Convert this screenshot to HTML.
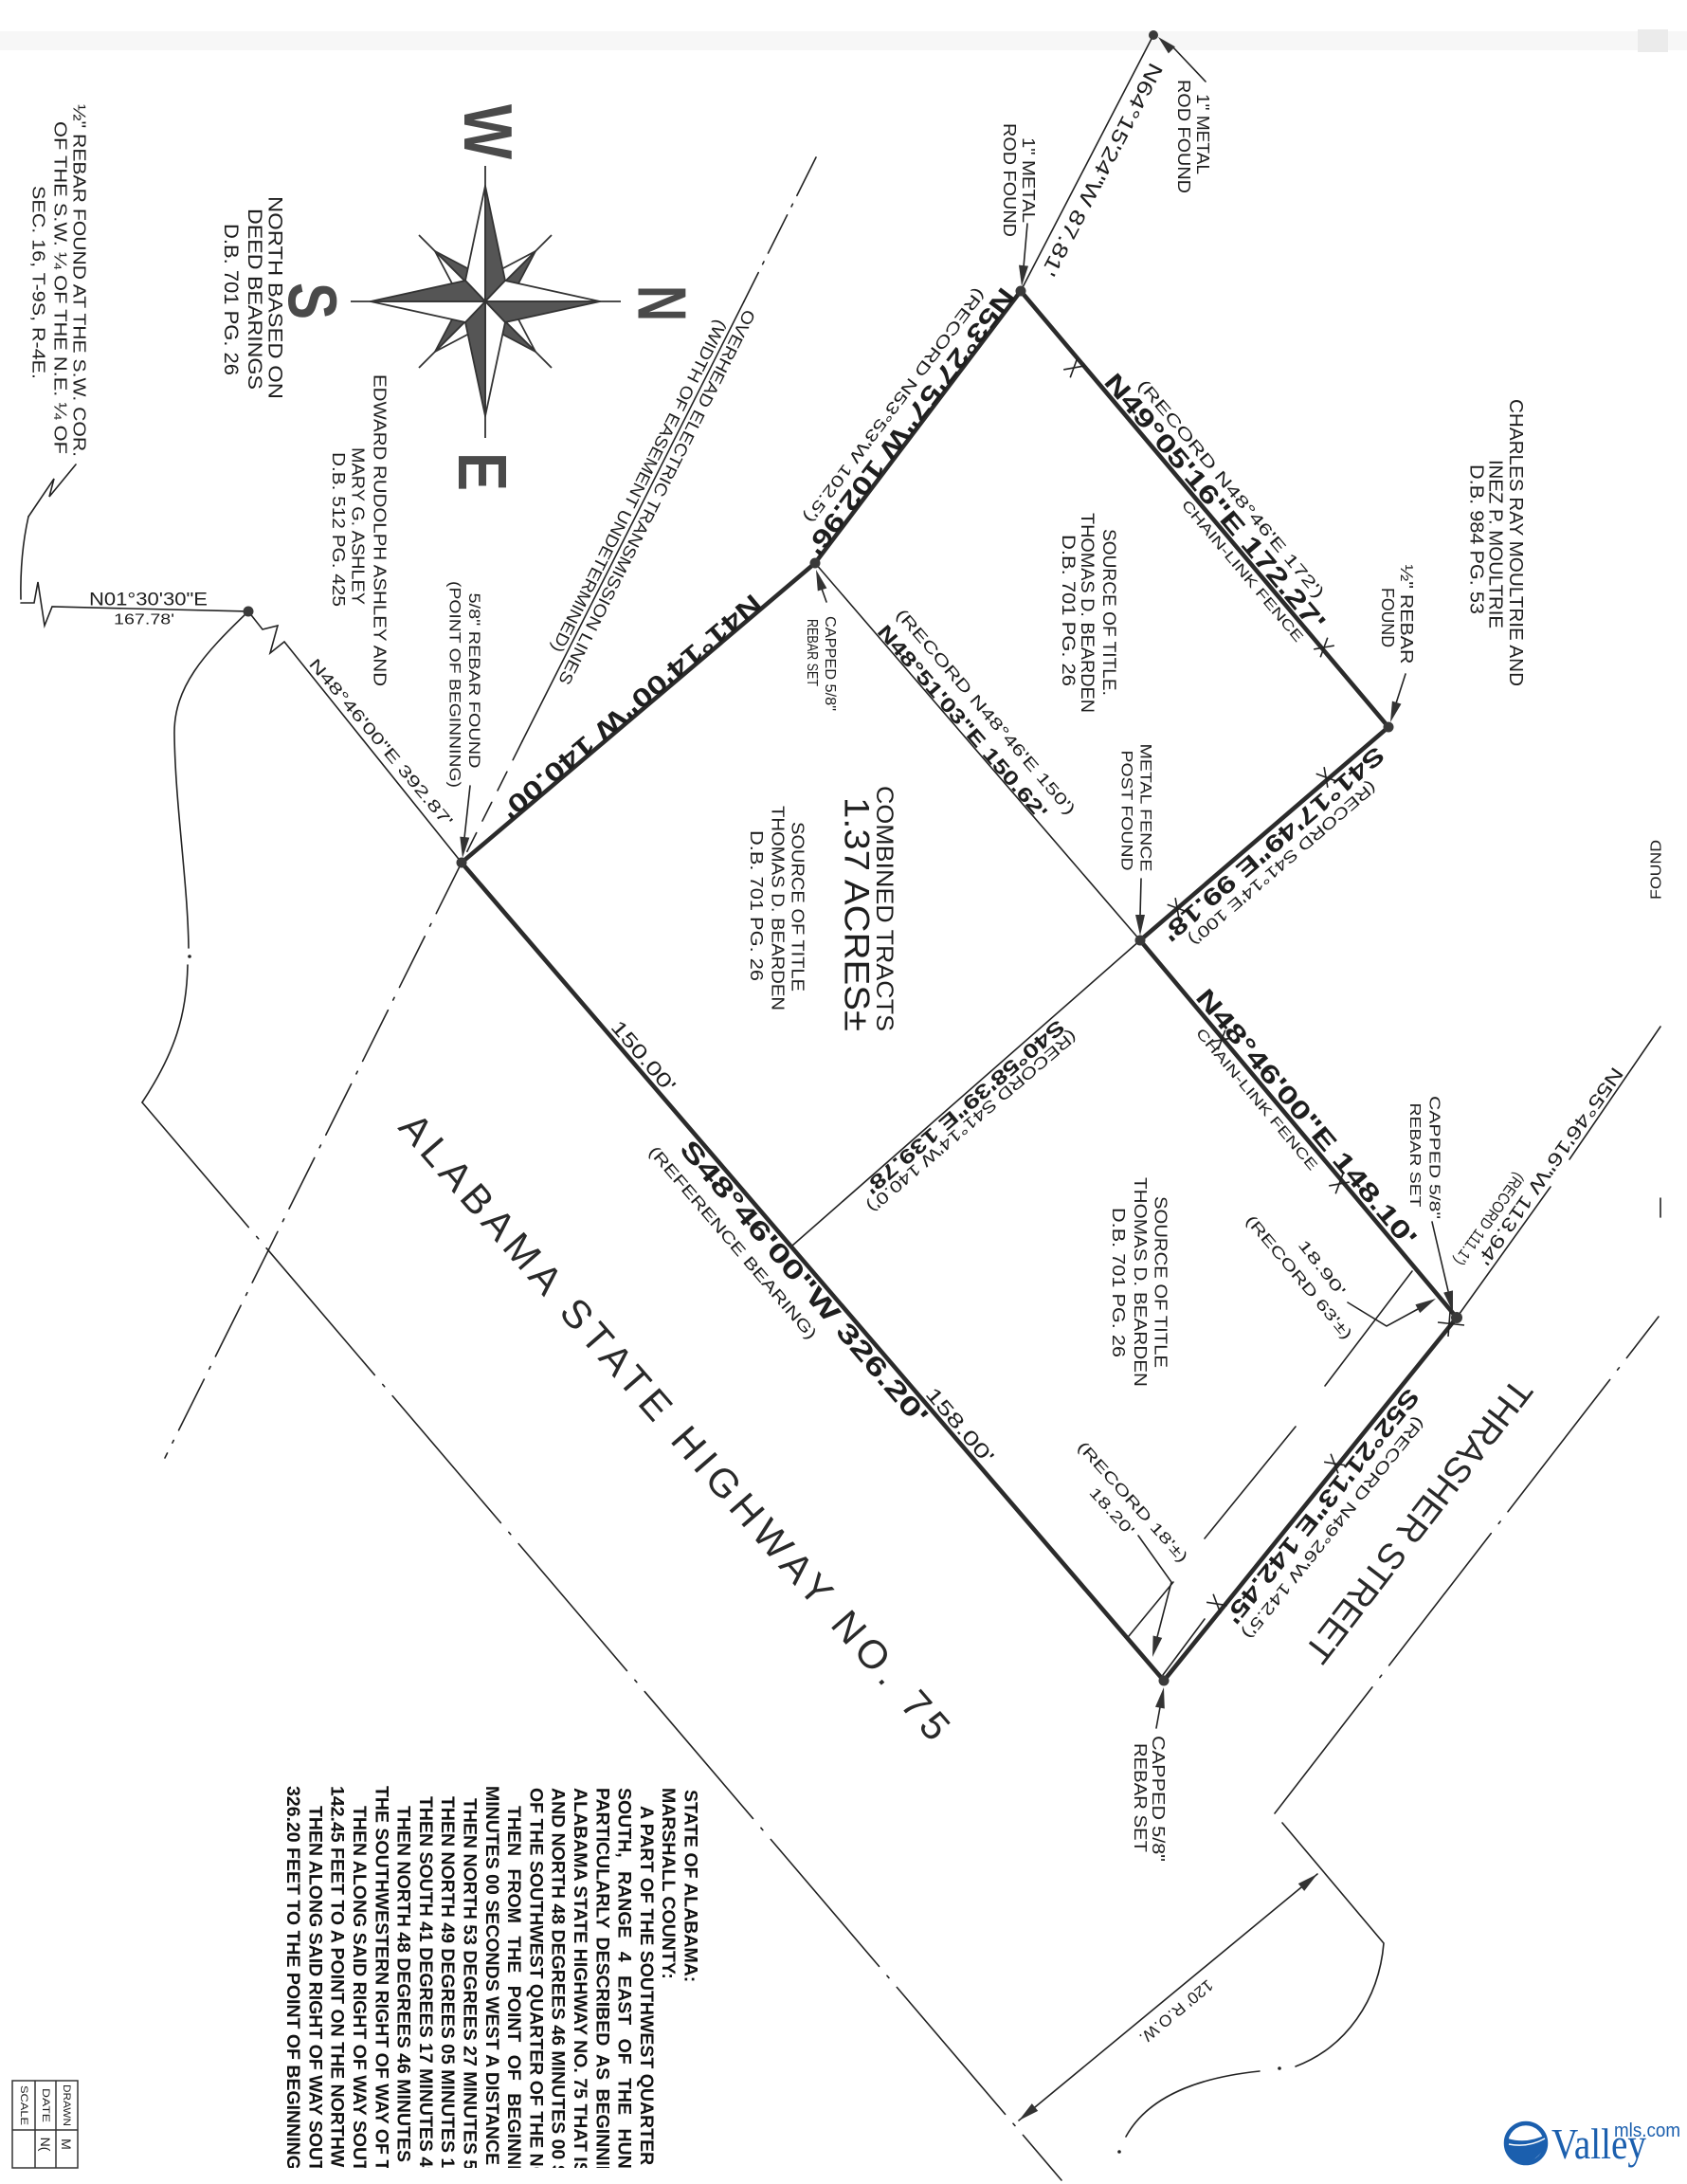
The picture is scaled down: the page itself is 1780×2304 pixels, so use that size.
<!DOCTYPE html>
<html><head><meta charset="utf-8">
<style>
html,body{margin:0;padding:0;background:#fff;width:1780px;height:2304px;overflow:hidden;}
svg{display:block;overflow:hidden;}
svg text{font-family:"Liberation Sans",Arial,sans-serif;fill:#1e1e1e;}
.b{font-weight:bold;}
.lg{font-weight:bold;fill:#111;font-size:19.5px;}
</style></head><body>
<svg width="1780" height="2304" viewBox="0 0 1780 2304" xmlns="http://www.w3.org/2000/svg">
<defs><clipPath id="cb"><rect x="0" y="0" width="1780" height="2287"/></clipPath></defs>
<rect width="1780" height="2304" fill="#fff"/>
<rect x="0" y="33" width="1780" height="20" fill="#f7f7f7"/>
<rect x="1728" y="31" width="32" height="24" fill="#ebebeb"/>

<!-- thin construction lines -->
<g stroke="#222" stroke-width="1.6" fill="none" stroke-linecap="round">
<line x1="1217" y1="37" x2="1077" y2="307"/>
<line x1="860" y1="594" x2="1203" y2="992"/>
<line x1="1203" y1="992" x2="836" y2="1314"/>
<line x1="1537" y1="1390" x2="1636" y2="1252"/>
<line x1="1656" y1="1223" x2="1752" y2="1083"/>
<line x1="1490" y1="1341" x2="1398" y2="1462"/>
<line x1="1367" y1="1505" x2="1271" y2="1623"/>
<line x1="1238" y1="1669" x2="1191" y2="1726"/>
<line x1="1271" y1="1708" x2="1227" y2="1767"/>
<line x1="1752" y1="1264" x2="1752" y2="1284"/>
<line x1="1075" y1="2237" x2="1390" y2="1977"/>
<polyline points="22,636 36,636 40,614 47,660 55,640 262,645"/>
<polyline points="262,645 277,664 293,660 285,689 300,677 487,910"/>
<polyline points="80,490 52,524 57,505 30,545"/>
<path d="M30,545 Q21,585 22,632"/>
<!-- leaders -->
<line x1="1272" y1="86" x2="1236" y2="48"/>
<line x1="1084" y1="236" x2="1080" y2="282"/>
<line x1="1483" y1="711" x2="1473" y2="742"/>
<line x1="1204" y1="927" x2="1203" y2="966"/>
<line x1="872" y1="635" x2="867" y2="621"/>
<line x1="496" y1="829" x2="490" y2="884"/>
<line x1="1511" y1="1289" x2="1528" y2="1362"/>
<line x1="1220" y1="1823" x2="1224" y2="1801"/>
<polyline points="1201,1620 1236,1669 1221,1727"/>
<polyline points="1422,1374 1463,1399 1496,1381"/>
<!-- highway / right of way lines -->
<line x1="861" y1="166" x2="785" y2="318" stroke-dasharray="45 10 3 10"/>
<line x1="785" y1="318" x2="551" y2="782"/>
<line x1="551" y1="782" x2="487" y2="910" stroke-dasharray="22 14"/>
<line x1="487" y1="910" x2="174" y2="1538" stroke-dasharray="60 12 3 12"/>
<line x1="150" y1="1163" x2="1120" y2="2300" stroke-dasharray="176 13 3 13" stroke-dashoffset="3"/>
<line x1="1750" y1="1389" x2="1345" y2="1913" stroke-dasharray="176 13 3 13" stroke-dashoffset="121"/>
<path d="M262,645 C215,690 183,725 184,775 C185,850 198,930 199,1000"/>
<path d="M198,1018 C197,1070 185,1110 150,1163"/>
<path d="M1353,1923 L1460,2050 C1455,2110 1420,2160 1367,2180"/>
<path d="M1329,2185 C1280,2190 1215,2205 1188,2254"/>
</g>
<g fill="#222">
<circle cx="200" cy="1009" r="1.8"/><circle cx="1350" cy="2182" r="1.8"/><circle cx="1181" cy="2270" r="1.8"/>
</g>

<!-- thick boundary -->
<polygon points="487,910 860,594 1077,307 1465,767 1203,992 1537,1390 1228,1773" fill="none" stroke="#2b2b2b" stroke-width="4.6" stroke-linejoin="round"/>

<!-- fence X marks -->
<g stroke="#222" stroke-width="1.6">
<line x1="1129.2" y1="398.3" x2="1136.8" y2="377.7"/><line x1="1143.8" y1="386.1" x2="1122.2" y2="389.9"/>
<line x1="1393.2" y1="693.3" x2="1400.8" y2="672.7"/><line x1="1407.8" y1="681.1" x2="1386.2" y2="684.9"/>
<line x1="1285.2" y1="1107.3" x2="1292.8" y2="1086.7"/><line x1="1299.8" y1="1095.1" x2="1278.2" y2="1098.9"/>
<line x1="1409.2" y1="1259.3" x2="1416.8" y2="1238.7"/><line x1="1423.8" y1="1247.1" x2="1402.2" y2="1250.9"/>
<line x1="1388.7" y1="816.2" x2="1409.3" y2="823.8"/><line x1="1400.9" y1="830.8" x2="1397.1" y2="809.2"/>
<line x1="1231.7" y1="954.2" x2="1252.3" y2="961.8"/><line x1="1243.9" y1="968.8" x2="1240.1" y2="947.2"/>
<line x1="1397.1" y1="1542.3" x2="1418.9" y2="1545.7"/><line x1="1411.9" y1="1554.3" x2="1404.1" y2="1533.7"/>
<line x1="1273.1" y1="1690.3" x2="1294.9" y2="1693.7"/><line x1="1287.9" y1="1702.3" x2="1280.1" y2="1681.7"/>
<line x1="1517" y1="1395" x2="1545" y2="1398"/><line x1="1530" y1="1384" x2="1528" y2="1410"/>
</g>

<!-- arrowheads -->
<g fill="#333">
<polygon points="1222,39 1239.9,49.2 1232.9,56.4"/>
<polygon points="1078,302 1085,280.6 1075,279.6"/>
<polygon points="1467,762 1478.5,742.6 1468.9,739.6"/>
<polygon points="1203,987 1208,965 1198,965"/>
<polygon points="861,601 872.4,620.5 862.8,623.5"/>
<polygon points="488,905 495.3,883.6 485.3,882.6"/>
<polygon points="1533,1384 1533,1361.4 1523.2,1363.6"/>
<polygon points="1228,1780 1228.8,1802.5 1219,1800.7"/>
<polygon points="1216,1748 1226.2,1727.9 1216.6,1725.5"/>
<polygon points="1515,1370 1498.2,1385.1 1493.4,1376.3"/>
<polygon points="1390,1977 1376.2,1994.9 1369.8,1987.1"/>
<polygon points="1075,2237 1095.2,2226.9 1088.8,2219.1"/>
</g>

<!-- points -->
<g fill="#3a3a3a">
<circle cx="1217" cy="37" r="5"/><circle cx="1077" cy="307" r="5.5"/><circle cx="860" cy="594" r="5.5"/>
<circle cx="1465" cy="767" r="5.5"/><circle cx="1203" cy="992" r="5.5"/><circle cx="1537" cy="1390" r="6"/>
<circle cx="1228" cy="1773" r="5.5"/><circle cx="487" cy="910" r="5.5"/><circle cx="262" cy="645" r="5.5"/>
</g>

<!-- compass rose -->
<g stroke="#333" stroke-width="1.8" stroke-linejoin="round">
<line x1="565" y1="265" x2="582" y2="248"/><line x1="565" y1="371" x2="582" y2="388"/>
<line x1="459" y1="371" x2="442" y2="388"/><line x1="459" y1="265" x2="442" y2="248"/>
<polygon points="565,265 533.2,296.8 529,284" fill="#fff"/><polygon points="565,265 533.2,296.8 546,301" fill="#555"/>
<polygon points="565,371 533.2,339.2 546,335" fill="#fff"/><polygon points="565,371 533.2,339.2 529,352" fill="#555"/>
<polygon points="459,371 490.8,339.2 495,352" fill="#fff"/><polygon points="459,371 490.8,339.2 478,335" fill="#555"/>
<polygon points="459,265 490.8,296.8 478,301" fill="#fff"/><polygon points="459,265 490.8,296.8 495,284" fill="#555"/>
<polygon points="512,318 512,196 491,296" fill="#fff"/><polygon points="512,318 512,196 533,296" fill="#555"/>
<polygon points="512,318 633,318 533,296" fill="#fff"/><polygon points="512,318 633,318 533,340" fill="#555"/>
<polygon points="512,318 512,439 533,340" fill="#fff"/><polygon points="512,318 512,439 491,340" fill="#555"/>
<polygon points="512,318 391,318 491,340" fill="#fff"/><polygon points="512,318 391,318 491,296" fill="#555"/>
<line x1="512" y1="196" x2="512" y2="175"/><line x1="633" y1="318" x2="655" y2="318"/>
<line x1="512" y1="439" x2="512" y2="462"/><line x1="391" y1="318" x2="370" y2="318"/>
</g>
<g class="b" text-anchor="middle" dominant-baseline="central" font-size="72">
<text transform="translate(514,139) rotate(90)" textLength="58" lengthAdjust="spacingAndGlyphs" style="fill:#4a4a4a">W</text>
<text transform="translate(697.5,320) rotate(90)" textLength="38" lengthAdjust="spacingAndGlyphs" style="fill:#4a4a4a">N</text>
<text transform="translate(508,497.5) rotate(90)" textLength="41" lengthAdjust="spacingAndGlyphs" style="fill:#4a4a4a">E</text>
<text transform="translate(328.5,317.5) rotate(90)" textLength="39" lengthAdjust="spacingAndGlyphs" style="fill:#4a4a4a">S</text>
</g>

<!-- labels along lines -->
<g text-anchor="middle" dominant-baseline="central">
<text transform="translate(1163,179) rotate(117.6)" font-size="22" textLength="250" lengthAdjust="spacingAndGlyphs">N64°15'24"W 87.81'</text>
<text class="b" transform="translate(960.5,444.5) rotate(127.1)" font-size="27" textLength="345" lengthAdjust="spacingAndGlyphs">N53°27'57"W 102.96'</text>
<text transform="translate(943.6,427.8) rotate(127.1)" font-size="17" textLength="305" lengthAdjust="spacingAndGlyphs">(RECORD N53°53'W 102.5')</text>
<text class="b" transform="translate(665.8,745.3) rotate(139.75)" font-size="27" textLength="350" lengthAdjust="spacingAndGlyphs">N41°14'00"W 140.00'</text>
<text class="b" transform="translate(1281.7,529.6) rotate(49.9)" font-size="27" textLength="345" lengthAdjust="spacingAndGlyphs">N49°05'16"E 172.27'</text>
<text transform="translate(1298.9,515.8) rotate(49.9)" font-size="17" textLength="295" lengthAdjust="spacingAndGlyphs">(RECORD N48°46'E 172')</text>
<text transform="translate(1310.6,602.7) rotate(49.9)" font-size="15" textLength="190" lengthAdjust="spacingAndGlyphs">CHAIN-LINK FENCE</text>
<text class="b" transform="translate(1343.2,890.1) rotate(139.3)" font-size="25" textLength="300" lengthAdjust="spacingAndGlyphs">S41°17'49"E 99.18'</text>
<text transform="translate(1353,910.7) rotate(139.3)" font-size="17" textLength="255" lengthAdjust="spacingAndGlyphs">(RECORD S41°14'E 100')</text>
<text class="b" transform="translate(1378.3,1179.1) rotate(50)" font-size="27" textLength="345" lengthAdjust="spacingAndGlyphs">N48°46'00"E 148.10'</text>
<text transform="translate(1325.7,1160) rotate(50)" font-size="15" textLength="190" lengthAdjust="spacingAndGlyphs">CHAIN-LINK FENCE</text>
<text class="b" transform="translate(1394.7,1588.6) rotate(128.9)" font-size="25" textLength="310" lengthAdjust="spacingAndGlyphs">S52°21'13"E 142.45'</text>
<text transform="translate(1406.8,1611.9) rotate(128.9)" font-size="17" textLength="295" lengthAdjust="spacingAndGlyphs">(RECORD N49°26'W 142.5')</text>
<text transform="translate(678.4,1114.7) rotate(49.4)" font-size="21" textLength="92" lengthAdjust="spacingAndGlyphs">150.00'</text>
<text transform="translate(1012.3,1504.1) rotate(49.4)" font-size="21" textLength="98" lengthAdjust="spacingAndGlyphs">158.00'</text>
<text class="b" transform="translate(848.4,1352.9) rotate(49.4)" font-size="28" textLength="385" lengthAdjust="spacingAndGlyphs">S48°46'00"W 326.20'</text>
<text transform="translate(773.1,1311.1) rotate(49.4)" font-size="17" textLength="262" lengthAdjust="spacingAndGlyphs">(REFERENCE BEARING)</text>
<text transform="translate(1040,751) rotate(49.3)" font-size="17" textLength="280" lengthAdjust="spacingAndGlyphs">(RECORD N48°46'E 150')</text>
<text class="b" transform="translate(1015,762) rotate(49.3)" font-size="21" textLength="262" lengthAdjust="spacingAndGlyphs">N48°51'03"E 150.62'</text>
<text transform="translate(1025.4,1182.9) rotate(139.5)" font-size="17" textLength="285" lengthAdjust="spacingAndGlyphs">(RECORD S41°14'W 140.0')</text>
<text class="b" transform="translate(1017.4,1167.4) rotate(139.5)" font-size="21" textLength="270" lengthAdjust="spacingAndGlyphs">S40°58'39"E 139.78'</text>
<text transform="translate(156.5,633)" font-size="19" textLength="125" lengthAdjust="spacingAndGlyphs">N01°30'30"E</text>
<text transform="translate(152,654)" font-size="16" textLength="64" lengthAdjust="spacingAndGlyphs">167.78'</text>
<text transform="translate(401.8,783.5) rotate(50)" font-size="17" textLength="225" lengthAdjust="spacingAndGlyphs">N48°46'00"E 392.87'</text>
<text transform="translate(693,524.5) rotate(116.7)" font-size="18" textLength="440" lengthAdjust="spacingAndGlyphs">OVERHEAD ELECTRIC TRANSMISSION LINES</text>
<text transform="translate(674.3,512.9) rotate(116.7)" font-size="18" textLength="390" lengthAdjust="spacingAndGlyphs">(WIDTH OF EASEMENT UNDETERMINED)</text>
<text transform="translate(712,1505) rotate(49)" font-size="42" textLength="860" lengthAdjust="spacing" style="fill:#2a2a2a">ALABAMA STATE HIGHWAY NO. 75</text>
<text transform="translate(1496,1604) rotate(127.6)" font-size="38" textLength="366" lengthAdjust="spacing" style="fill:#2a2a2a">THRASHER STREET</text>
<text transform="translate(1241,2122) rotate(140.4)" font-size="17" textLength="95" lengthAdjust="spacingAndGlyphs">120' R.O.W.</text>
<text transform="translate(1194.5,1585) rotate(48)" font-size="16" textLength="165" lengthAdjust="spacingAndGlyphs">(RECORD 18'±)</text>
<text transform="translate(1172.5,1595) rotate(48)" font-size="16" textLength="62" lengthAdjust="spacingAndGlyphs">18.20'</text>
<text transform="translate(1394,1338) rotate(52)" font-size="16" textLength="70" lengthAdjust="spacingAndGlyphs">18.90'</text>
<text transform="translate(1370,1348) rotate(50)" font-size="16" textLength="165" lengthAdjust="spacingAndGlyphs">(RECORD 63'±)</text>
<text transform="translate(1635.3,1229.8) rotate(125.3)" font-size="20" textLength="250" lengthAdjust="spacingAndGlyphs">N55°46'16"W 113.94'</text>
<text transform="translate(1571.1,1286) rotate(125.3)" font-size="17" textLength="115" lengthAdjust="spacingAndGlyphs">(RECORD 111.1')</text>
<text transform="translate(1748,917.5) rotate(-90)" font-size="16" textLength="63" lengthAdjust="spacingAndGlyphs">FOUND</text>
</g>

<!-- vertical (rotated 90) note blocks -->
<g text-anchor="middle" dominant-baseline="central">
<text transform="translate(1269,141.5) rotate(90)" font-size="18" textLength="85" lengthAdjust="spacingAndGlyphs">1" METAL</text>
<text transform="translate(1249,144) rotate(90)" font-size="18" textLength="120" lengthAdjust="spacingAndGlyphs">ROD FOUND</text>
<text transform="translate(1085,190) rotate(90)" font-size="18" textLength="90" lengthAdjust="spacingAndGlyphs">1" METAL</text>
<text transform="translate(1065,190) rotate(90)" font-size="18" textLength="120" lengthAdjust="spacingAndGlyphs">ROD FOUND</text>
<text transform="translate(1599,572.5) rotate(90)" font-size="20" textLength="303" lengthAdjust="spacingAndGlyphs">CHARLES RAY MOULTRIE AND</text>
<text transform="translate(1577.5,574) rotate(90)" font-size="20" textLength="178" lengthAdjust="spacingAndGlyphs">INEZ P. MOULTRIE</text>
<text transform="translate(1557.5,569) rotate(90)" font-size="20" textLength="158" lengthAdjust="spacingAndGlyphs">D.B. 984 PG. 53</text>
<text transform="translate(1484,648) rotate(90)" font-size="18" textLength="105" lengthAdjust="spacingAndGlyphs">½" REBAR</text>
<text transform="translate(1464,651.5) rotate(90)" font-size="18" textLength="63" lengthAdjust="spacingAndGlyphs">FOUND</text>
<text transform="translate(1169.5,646) rotate(90)" font-size="19" textLength="176" lengthAdjust="spacingAndGlyphs">SOURCE OF TITLE.</text>
<text transform="translate(1146.5,646.5) rotate(90)" font-size="19" textLength="211" lengthAdjust="spacingAndGlyphs">THOMAS D. BEARDEN</text>
<text transform="translate(1126.5,644) rotate(90)" font-size="19" textLength="160" lengthAdjust="spacingAndGlyphs">D.B. 701 PG. 26</text>
<text transform="translate(933,958.5) rotate(90)" font-size="25" textLength="259" lengthAdjust="spacingAndGlyphs">COMBINED TRACTS</text>
<text transform="translate(904,964.5) rotate(90)" font-size="37" textLength="247" lengthAdjust="spacingAndGlyphs">1.37 ACRES±</text>
<text transform="translate(841.5,956.5) rotate(90)" font-size="18" textLength="179" lengthAdjust="spacingAndGlyphs">SOURCE OF TITLE</text>
<text transform="translate(820.5,958) rotate(90)" font-size="18" textLength="216" lengthAdjust="spacingAndGlyphs">THOMAS D. BEARDEN</text>
<text transform="translate(798,955.5) rotate(90)" font-size="18" textLength="159" lengthAdjust="spacingAndGlyphs">D.B. 701 PG. 26</text>
<text transform="translate(1224.5,1352.5) rotate(90)" font-size="18" textLength="181" lengthAdjust="spacingAndGlyphs">SOURCE OF TITLE</text>
<text transform="translate(1203,1352.5) rotate(90)" font-size="18" textLength="221" lengthAdjust="spacingAndGlyphs">THOMAS D. BEARDEN</text>
<text transform="translate(1180,1353) rotate(90)" font-size="18" textLength="158" lengthAdjust="spacingAndGlyphs">D.B. 701 PG. 26</text>
<text transform="translate(1209,852) rotate(90)" font-size="17" textLength="135" lengthAdjust="spacingAndGlyphs">METAL FENCE</text>
<text transform="translate(1189,855) rotate(90)" font-size="17" textLength="127" lengthAdjust="spacingAndGlyphs">POST FOUND</text>
<text transform="translate(875.5,700) rotate(90)" font-size="16" textLength="100" lengthAdjust="spacingAndGlyphs">CAPPED 5/8"</text>
<text transform="translate(856.5,688.5) rotate(90)" font-size="16" textLength="71" lengthAdjust="spacingAndGlyphs">REBAR SET</text>
<text transform="translate(500.5,718) rotate(90)" font-size="17" textLength="185" lengthAdjust="spacingAndGlyphs">5/8" REBAR FOUND</text>
<text transform="translate(480,722) rotate(90)" font-size="17" textLength="218" lengthAdjust="spacingAndGlyphs">(POINT OF BEGINNING)</text>
<text transform="translate(400.5,559.5) rotate(90)" font-size="18" textLength="329" lengthAdjust="spacingAndGlyphs">EDWARD RUDOLPH ASHLEY AND</text>
<text transform="translate(377.5,555) rotate(90)" font-size="18" textLength="166" lengthAdjust="spacingAndGlyphs">MARY G. ASHLEY</text>
<text transform="translate(357,558.5) rotate(90)" font-size="18" textLength="163" lengthAdjust="spacingAndGlyphs">D.B. 512 PG. 425</text>
<text transform="translate(290,314) rotate(90)" font-size="21" textLength="214" lengthAdjust="spacingAndGlyphs">NORTH BASED ON</text>
<text transform="translate(268.5,315.5) rotate(90)" font-size="21" textLength="191" lengthAdjust="spacingAndGlyphs">DEED BEARINGS</text>
<text transform="translate(243.5,316) rotate(90)" font-size="21" textLength="160" lengthAdjust="spacingAndGlyphs">D.B. 701 PG. 26</text>
<text transform="translate(83.5,296) rotate(90)" font-size="18" textLength="372" lengthAdjust="spacingAndGlyphs">½" REBAR FOUND AT THE S.W. COR.</text>
<text transform="translate(63.5,303.5) rotate(90)" font-size="18" textLength="351" lengthAdjust="spacingAndGlyphs">OF THE S.W. ¼ OF THE N.E. ¼ OF</text>
<text transform="translate(40.5,298) rotate(90)" font-size="18" textLength="204" lengthAdjust="spacingAndGlyphs">SEC. 16, T-9S, R-4E.</text>
<text transform="translate(1513,1221) rotate(90)" font-size="16" textLength="130" lengthAdjust="spacingAndGlyphs">CAPPED 5/8"</text>
<text transform="translate(1492.5,1218.5) rotate(90)" font-size="16" textLength="110" lengthAdjust="spacingAndGlyphs">REBAR SET</text>
<text transform="translate(1222,1897.5) rotate(90)" font-size="18" textLength="133" lengthAdjust="spacingAndGlyphs">CAPPED 5/8"</text>
<text transform="translate(1203,1896.5) rotate(90)" font-size="18" textLength="115" lengthAdjust="spacingAndGlyphs">REBAR SET</text>
</g>

<!-- legal description -->
<g clip-path="url(#cb)" dominant-baseline="central">
<text class="lg" transform="translate(728.5,1888) rotate(90)">STATE OF ALABAMA:</text>
<text class="lg" transform="translate(705.2,1886) rotate(90)">MARSHALL COUNTY:</text>
<text class="lg" transform="translate(681.9,1905) rotate(90)">A PART OF THE SOUTHWEST QUARTER OF</text>
<text class="lg" transform="translate(658.6,1886) rotate(90)" style="word-spacing:9px">SOUTH, RANGE 4 EAST OF THE HUNTS</text>
<text class="lg" transform="translate(635.3,1886) rotate(90)" style="word-spacing:4px">PARTICULARLY DESCRIBED AS BEGINNING</text>
<text class="lg" transform="translate(612,1886) rotate(90)">ALABAMA STATE HIGHWAY NO. 75 THAT IS</text>
<text class="lg" transform="translate(588.7,1886) rotate(90)">AND NORTH 48 DEGREES 46 MINUTES 00 S</text>
<text class="lg" transform="translate(565.4,1886) rotate(90)">OF THE SOUTHWEST QUARTER OF THE NOR</text>
<text class="lg" transform="translate(542.1,1905) rotate(90)" style="word-spacing:8px">THEN FROM THE POINT OF BEGINNING</text>
<text class="lg" transform="translate(518.8,1884) rotate(90)">MINUTES 00 SECONDS WEST A DISTANCE OF</text>
<text class="lg" transform="translate(495.5,1897) rotate(90)">THEN NORTH 53 DEGREES 27 MINUTES 57</text>
<text class="lg" transform="translate(472.2,1895) rotate(90)">THEN NORTH 49 DEGREES 05 MINUTES 16</text>
<text class="lg" transform="translate(448.9,1895) rotate(90)">THEN SOUTH 41 DEGREES 17 MINUTES 49</text>
<text class="lg" transform="translate(425.6,1905) rotate(90)">THEN NORTH 48 DEGREES 46 MINUTES 00</text>
<text class="lg" transform="translate(402.3,1884) rotate(90)">THE SOUTHWESTERN RIGHT OF WAY OF TH</text>
<text class="lg" transform="translate(379,1905) rotate(90)">THEN ALONG SAID RIGHT OF WAY SOUTH</text>
<text class="lg" transform="translate(355.7,1884) rotate(90)">142.45 FEET TO A POINT ON THE NORTHWE</text>
<text class="lg" transform="translate(332.4,1905) rotate(90)">THEN ALONG SAID RIGHT OF WAY SOUTH</text>
<text class="lg" transform="translate(309.1,1884) rotate(90)">326.20 FEET TO THE POINT OF BEGINNING</text>
</g>

<!-- title block -->
<g stroke="#333" stroke-width="1.5" fill="none">
<rect x="13" y="2195" width="69" height="92"/>
<line x1="37" y1="2195" x2="37" y2="2287"/>
<line x1="59" y1="2195" x2="59" y2="2287"/>
<line x1="13" y1="2247" x2="82" y2="2247"/>
</g>
<g text-anchor="middle" dominant-baseline="central" font-size="11">
<text transform="translate(70,2221) rotate(90)" textLength="44" lengthAdjust="spacingAndGlyphs">DRAWN</text>
<text transform="translate(48,2221) rotate(90)" textLength="36" lengthAdjust="spacingAndGlyphs">DATE</text>
<text transform="translate(25,2221) rotate(90)" textLength="42" lengthAdjust="spacingAndGlyphs">SCALE</text>
<text transform="translate(70,2262) rotate(90)" font-size="14">M</text>
<text transform="translate(48,2262) rotate(90)" font-size="14">N(</text>
</g>

<!-- logo -->
<g>
<circle cx="1610" cy="2261" r="21" fill="none" stroke="#1b5fae" stroke-width="4.5"/>
<path d="M1591,2256 Q1611,2262 1631,2252 L1630,2266 Q1620,2280 1610,2281 Q1593,2278 1591,2266 Z" fill="#1b5fae"/>
<path d="M1592,2262 Q1612,2266 1630,2256" fill="none" stroke="#fff" stroke-width="1.5"/>
<text x="1637" y="2277" font-size="46" textLength="100" lengthAdjust="spacingAndGlyphs" style="font-family:'Liberation Serif',serif;fill:#1b5fae">Valley</text>
<text x="1703" y="2254" font-size="20" textLength="70" lengthAdjust="spacingAndGlyphs" style="font-family:'Liberation Sans',sans-serif;fill:#1b5fae">mls.com</text>
</g>
</svg>
</body></html>
